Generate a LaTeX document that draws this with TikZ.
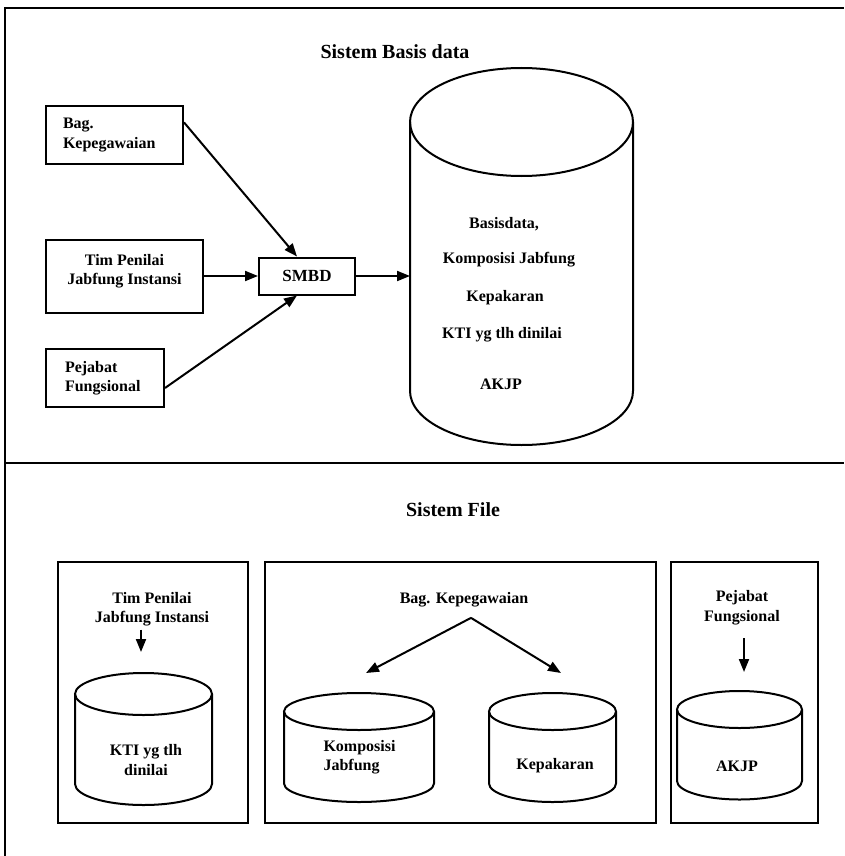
\documentclass[tikz,border=0pt]{standalone}
\usepackage{fontspec}
\setmainfont{Liberation Serif}
\usetikzlibrary{arrows.meta, calc}
% cylinder: centre x, top ellipse y, x radius, y radius, bottom ellipse y
\newcommand{\dbcyl}[5]{%
  \draw[dbline] (#1-#3,-#2) -- (#1-#3,-#5)
    arc[start angle=180, end angle=360, x radius=#3pt, y radius=#4pt] -- (#1+#3,-#2);
  \draw[dbline] (#1,-#2) ellipse[x radius=#3pt, y radius=#4pt];}

\begin{document}
\begin{tikzpicture}[x=1pt, y=1pt,
      >={Triangle[length=13pt, width=10pt]},
      font=\fontsize{16}{19.5}\selectfont\bfseries,
      frm/.style={line width=2.6pt},
      box/.style={draw, line width=2pt},
      grp/.style={line width=2pt},
      dbline/.style={line width=2pt},
      ttl/.style={font=\fontsize{20}{24}\selectfont\bfseries},
      lbl/.style={align=center},
      flow/.style={->, line width=2pt}]
    \useasboundingbox (0,0) rectangle (844,-856);
    % frame and split
    \draw[frm] (5,-856) -- (5,-8) -- (844,-8);
    \draw[frm] (5,-463) -- (844,-463);
    % upper part
    \node[ttl] (tdb) at (395,-52) {Sistem Basis data};
    \node[box, inner xsep=17pt, text width=103pt, minimum height=58pt, align=left] (bag) at (114.5,-135) {Bag.\\Kepegawaian};
    \node[box, lbl, minimum width=157pt, minimum height=73pt] (tim) at (124.5,-276) {Tim Penilai\\Jabfung Instansi\\[-12pt]\strut};
    \node[box, inner xsep=19pt, text width=80pt, minimum height=58pt, align=left] (pej) at (105,-378) {Pejabat\\Fungsional};
    \node[box, minimum width=96pt, minimum height=37pt, font=\fontsize{17}{20}\selectfont\bfseries] (smbd) at (307,-276) {SMBD};
    \dbcyl{521.5}{122}{111.5}{54}{391}
    \coordinate (dbin) at (410,-276);
    \node (db1) at (504,-224) {Basisdata,};
    \node (db2) at (509,-260) {Komposisi Jabfung};
    \node (db3) at (505,-298) {Kepakaran};
    \node (db4) at (502,-335) {KTI yg tlh dinilai};
    \node (db5) at (501,-384) {AKJP};
    \draw[flow] ($(bag.north east)!0.29!(bag.south east)$) -- ([xshift=-10pt]smbd.north);
    \draw[flow] (tim.east) -- (smbd.west);
    \draw[flow] ([yshift=-10pt]pej.east) -- ([xshift=-10pt]smbd.south);
    \draw[flow] (smbd.east) -- (dbin);
    % lower part
    \node[ttl] (tfile) at (453,-510) {Sistem File};
    \draw[grp] (58,-562) rectangle (248,-823);
    \draw[grp] (265,-562) rectangle (656,-823);
    \draw[grp] (671,-562) rectangle (818,-823);
    % left group
    \node[lbl] (timf) at (152,-609) {Tim Penilai\\Jabfung Instansi};
    \coordinate (ktiin) at (141,-652);
    \draw[flow] ([xshift=-11pt]timf.south) -- (ktiin);
    \dbcyl{143.5}{694}{68.5}{21}{784}
    \node[lbl] (ktif) at (146,-760) {KTI yg tlh\\dinilai};
    % middle group
    \node (bagf) at (464,-600) {Bag. Kepegawaian};
    \coordinate (fork) at ([shift={(7,-7)}]bagf.south);
    \coordinate (kjin) at (366,-673);
    \coordinate (kpin) at (561,-673);
    \draw[flow] (fork) -- (kjin);
    \draw[flow] (fork) -- (kpin);
    \dbcyl{359}{711.5}{75}{18.5}{783.5}
    \node[align=left, anchor=west] (kjf) at (320,-757) {Komposisi\\Jabfung};
    \dbcyl{552.5}{711.5}{63.5}{18.5}{783.5}
    \node (kpf) at (555,-766) {Kepakaran};
    % right group
    \node[lbl] (pejf) at (742,-607.5) {Pejabat\\Fungsional};
    \coordinate (akin) at (744,-672);
    \draw[flow] ([shift={(2,-10)}]pejf.south) -- (akin);
    \dbcyl{739.5}{709.5}{62.5}{18.5}{781}
    \node (akf) at (737,-766) {AKJP};
\end{tikzpicture}
\end{document}
